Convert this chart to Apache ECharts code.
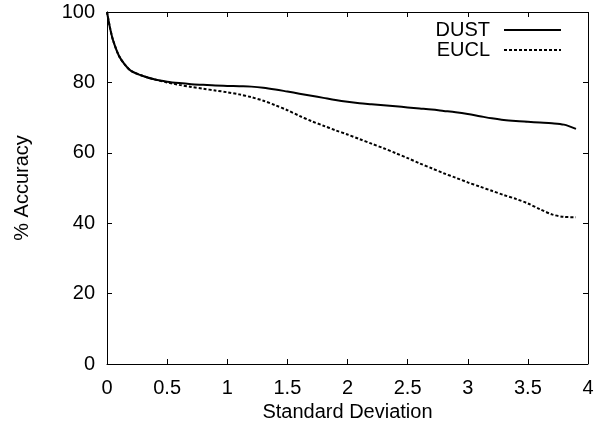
<!DOCTYPE html>
<html>
<head>
<meta charset="utf-8">
<script src="https://cdn.jsdelivr.net/npm/echarts@6/dist/echarts.min.js"></script>
<style>
html,body{margin:0;padding:0;background:#fff;}
#chart{width:597px;height:430px;}
</style>
</head>
<body>
<div id="chart"></div>
<script>
const stdDev = [0, 0.025, 0.05, 0.1, 0.15, 0.2, 0.3, 0.4, 0.5, 0.6, 0.7, 0.8, 0.9, 1.0, 1.1, 1.2, 1.3, 1.4, 1.5, 1.6, 1.7, 1.8, 1.9, 2.0, 2.1, 2.2, 2.3, 2.4, 2.5, 2.6, 2.7, 2.8, 2.9, 3.0, 3.1, 3.2, 3.3, 3.4, 3.5, 3.6, 3.7, 3.8, 3.9];
const dust = [100, 95.5, 92, 87.5, 85, 83.3, 81.8, 80.8, 80.2, 79.8, 79.5, 79.3, 79.1, 79.0, 78.9, 78.8, 78.5, 78.0, 77.4, 76.8, 76.2, 75.6, 75.0, 74.5, 74.1, 73.8, 73.5, 73.2, 72.9, 72.6, 72.3, 71.9, 71.5, 71.0, 70.4, 69.8, 69.3, 69.0, 68.8, 68.6, 68.4, 68.0, 66.8];
const eucl = [100, 95.5, 92, 87.5, 85, 83.3, 81.8, 80.8, 80.0, 79.3, 78.7, 78.2, 77.7, 77.2, 76.6, 75.8, 74.8, 73.5, 72.1, 70.5, 69.0, 67.7, 66.4, 65.2, 63.9, 62.6, 61.3, 59.9, 58.5, 57.0, 55.6, 54.2, 52.9, 51.6, 50.4, 49.2, 48.0, 46.9, 45.6, 44.0, 42.5, 41.8, 41.7];
const seriesNames = ['DUST', 'EUCL'];
const xTicks = [0, 0.5, 1, 1.5, 2, 2.5, 3, 3.5, 4];
const yTicks = [0, 20, 40, 60, 80, 100];
const xTitle = 'Standard Deviation';
const yTitle = '% Accuracy';

const X_MIN = 0, X_MAX = 4, Y_MIN = 0, Y_MAX = 100;
// tick length (~5px) expressed in data units of each axis
const TICK_X = (X_MAX - X_MIN) * 5 / 481;
const TICK_Y = (Y_MAX - Y_MIN) * 5 / 352;

const font = 'Liberation Sans, Arial, Helvetica, sans-serif';
const pairs = arr => stdDev.map((x, i) => [x, arr[i]]);

// frame (top and right edges) and inward ticks on all four sides
const frameLines = [
  [{coord: [X_MIN, Y_MAX]}, {coord: [X_MAX, Y_MAX]}],
  [{coord: [X_MAX, Y_MIN]}, {coord: [X_MAX, Y_MAX]}]
];
const tickLines = [];
xTicks.slice(1, -1).forEach(t => {
  tickLines.push([{coord: [t, Y_MIN]}, {coord: [t, Y_MIN + TICK_Y]}]);
  tickLines.push([{coord: [t, Y_MAX]}, {coord: [t, Y_MAX - TICK_Y]}]);
});
yTicks.slice(1, -1).forEach(t => {
  tickLines.push([{coord: [X_MIN, t]}, {coord: [X_MIN + TICK_X, t]}]);
  tickLines.push([{coord: [X_MAX, t]}, {coord: [X_MAX - TICK_X, t]}]);
});

const chart = echarts.init(document.getElementById('chart'));
chart.setOption({
  animation: false,
  grid: {left: 107, right: 9, top: 12, bottom: 66},
  legend: {
    orient: 'vertical',
    align: 'right',
    right: 30,
    top: 15,
    itemWidth: 57,
    itemHeight: 14,
    itemGap: 0,
    itemStyle: {opacity: 0},
    textStyle: {fontFamily: font, fontSize: 20, color: '#000', padding: [0, 9, 0, 0]},
    data: seriesNames
  },
  xAxis: {
    type: 'value', min: X_MIN, max: X_MAX, interval: 0.5,
    name: xTitle, nameLocation: 'middle', nameGap: 37,
    nameTextStyle: {fontFamily: font, fontSize: 20, color: '#000'},
    axisLine: {show: true, onZero: false, lineStyle: {color: '#000'}},
    axisTick: {show: false},
    splitLine: {show: false},
    axisLabel: {fontFamily: font, fontSize: 20, color: '#000', margin: 14}
  },
  yAxis: {
    type: 'value', min: Y_MIN, max: Y_MAX, interval: 20,
    name: yTitle, nameLocation: 'middle', nameGap: 75,
    nameTextStyle: {fontFamily: font, fontSize: 20, color: '#000'},
    axisLine: {show: true, onZero: false, lineStyle: {color: '#000'}},
    axisTick: {show: false},
    splitLine: {show: false},
    axisLabel: {fontFamily: font, fontSize: 20, color: '#000', margin: 12}
  },
  series: [
    {
      name: seriesNames[0], type: 'line', data: pairs(dust),
      showSymbol: false, symbol: 'none', smooth: 0.3,
      lineStyle: {color: '#000', width: 2, type: 'solid'},
      itemStyle: {color: '#000'},
      markLine: {
        silent: true, symbol: ['none', 'none'], animation: false,
        label: {show: false},
        lineStyle: {color: '#000', width: 1, type: 'solid'},
        emphasis: {disabled: true},
        data: frameLines.concat(tickLines)
      }
    },
    {
      name: seriesNames[1], type: 'line', data: pairs(eucl),
      showSymbol: false, symbol: 'none', smooth: 0.3,
      lineStyle: {color: '#000', width: 2, type: [3, 2]},
      itemStyle: {color: '#000'}
    }
  ]
});
</script>
</body>
</html>
